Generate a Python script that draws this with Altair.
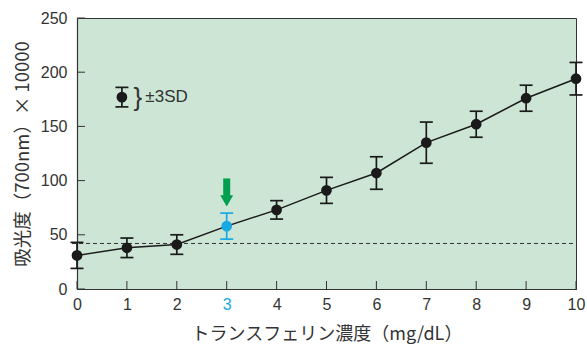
import altair as alt
import pandas as pd

# ---- data ----
conc = [0, 1, 2, 3, 4, 5, 6, 7, 8, 9, 10]
absorb = [31, 38, 41, 58, 73, 91, 107, 135, 152, 176, 194]
sd3 = [12, 9, 9, 12, 8.5, 12, 15, 19, 12, 12, 15]
cutoff = [42]
highlight = 3
y_ticks = [0, 50, 100, 150, 200, 250]

legend_x = [0.9]
legend_y = [177]
legend_sd = [9]
brace_x = [1.22]
label_x = [1.37]

arrow_x = [3]
arrow_top = [102]
arrow_bottom = [85]
arrow_head = [81.4]

df = pd.DataFrame({"x": conc, "y": absorb,
                   "lo": [a - s for a, s in zip(absorb, sd3)],
                   "hi": [a + s for a, s in zip(absorb, sd3)]})
df_cut = pd.DataFrame({"y": cutoff})
df_xt = pd.DataFrame({"x": conc})
df_yt = pd.DataFrame({"y": y_ticks})
df_leg = pd.DataFrame({"x": legend_x, "y": legend_y,
                       "lo": [legend_y[0] - legend_sd[0]],
                       "hi": [legend_y[0] + legend_sd[0]],
                       "bx": brace_x, "tx": label_x})
df_arrow = pd.DataFrame({"x": arrow_x, "top": arrow_top, "bottom": arrow_bottom,
                         "head": arrow_head})

W, H = 499, 271
black = "#1a1a1a"
blue = "#1aa9e3"
green = "#00a04e"
text_col = "#333333"
font = "Liberation Sans"
cjk = "Noto Sans CJK JP"

xs = alt.Scale(domain=[0, 10], nice=False, zero=False)
ys = alt.Scale(domain=[0, 250], nice=False)
color_cond = alt.condition(f"datum.x == {highlight}", alt.value(blue), alt.value(black))

x_axis = alt.Axis(values=conc, title="トランスフェリン濃度（mg/dL）", grid=False,
                  ticks=False, labelPadding=7, labelFontSize=16, labelFlush=False,
                  labelOverlap=False,
                  labelFont=font, labelColor=alt.expr(f"datum.value == {highlight} ? '{blue}' : '{text_col}'"),
                  titleFont=cjk, titleFontSize=18, titleFontWeight="normal",
                  titleColor=text_col, titlePadding=13, domainColor="#333", domainWidth=1.2)
y_axis = alt.Axis(values=y_ticks, title="吸光度（700nm）× 10000", grid=False,
                  ticks=False, labelPadding=10, labelFontSize=16, labelFlush=False,
                  labelOverlap=False,
                  labelFont=font, labelColor=text_col,
                  titleFont=cjk, titleFontSize=18.5, titleFontWeight="normal",
                  titleColor=text_col, titlePadding=8, domainColor="#333", domainWidth=1.2)

X = lambda f="x": alt.X(f"{f}:Q", scale=xs, axis=x_axis)
Y = lambda f="y": alt.Y(f"{f}:Q", scale=ys, axis=y_axis)

xticks = alt.Chart(df_xt).mark_rule(color="#333", strokeWidth=1).encode(
    x=X(), y=alt.value(H), y2=alt.value(H - 8))
yticks = alt.Chart(df_yt).mark_rule(color="#333", strokeWidth=1).encode(
    y=Y(), x=alt.value(0), x2=alt.value(8))

dashed = alt.Chart(df_cut).mark_rule(color="#333", strokeWidth=1, strokeDash=[4, 3]).encode(
    y=Y(), x=alt.value(-5), x2=alt.value(W))

line = alt.Chart(df).mark_line(color=black, strokeWidth=1.5).encode(x=X(), y=Y())
bars = alt.Chart(df).mark_rule(strokeWidth=1.7).encode(x=X(), y=Y("lo"), y2="hi", color=color_cond)
cap_lo = alt.Chart(df).mark_tick(orient="horizontal", size=13, thickness=1.7, opacity=1).encode(
    x=X(), y=Y("lo"), color=color_cond)
cap_hi = alt.Chart(df).mark_tick(orient="horizontal", size=13, thickness=1.7, opacity=1).encode(
    x=X(), y=Y("hi"), color=color_cond)
pts = alt.Chart(df).mark_circle(size=115, opacity=1).encode(x=X(), y=Y(), color=color_cond)

shaft = alt.Chart(df_arrow).mark_rule(color=green, strokeWidth=7, strokeCap="butt").encode(
    x=X(), y=Y("top"), y2="bottom")
head = alt.Chart(df_arrow).mark_point(shape="triangle-down", size=169, filled=True,
                                      color=green, opacity=1).encode(x=X(), y=Y("head"))

leg_bar = alt.Chart(df_leg).mark_rule(color=black, strokeWidth=1.7).encode(x=X(), y=Y("lo"), y2="hi")
leg_lo = alt.Chart(df_leg).mark_tick(orient="horizontal", size=13, thickness=1.7, opacity=1,
                                     color=black).encode(x=X(), y=Y("lo"))
leg_hi = alt.Chart(df_leg).mark_tick(orient="horizontal", size=13, thickness=1.7, opacity=1,
                                     color=black).encode(x=X(), y=Y("hi"))
leg_pt = alt.Chart(df_leg).mark_circle(size=115, opacity=1, color=black).encode(x=X(), y=Y())
leg_brace = alt.Chart(df_leg).mark_text(text="}", fontSize=26, font=font, color=text_col,
                                        fontWeight=300, align="center", baseline="middle",
                                        dy=1).encode(x=X("bx"), y=Y())
leg_text = alt.Chart(df_leg).mark_text(text="±3SD", fontSize=17, font=font, color=text_col,
                                       align="left", baseline="middle").encode(x=X("tx"), y=Y())

chart = alt.layer(xticks, yticks, dashed, line, bars, cap_lo, cap_hi, pts, shaft, head,
                  leg_bar, leg_lo, leg_hi, leg_pt, leg_brace, leg_text).properties(
    width=W, height=H, autosize="none",
    padding={"left": 77, "top": 18, "right": 11, "bottom": 58},
    background="white",
).configure_view(fill="#cde5d5", stroke="#333", strokeWidth=1)

chart.save("out.html", embed_options={"renderer": "svg", "actions": False})
